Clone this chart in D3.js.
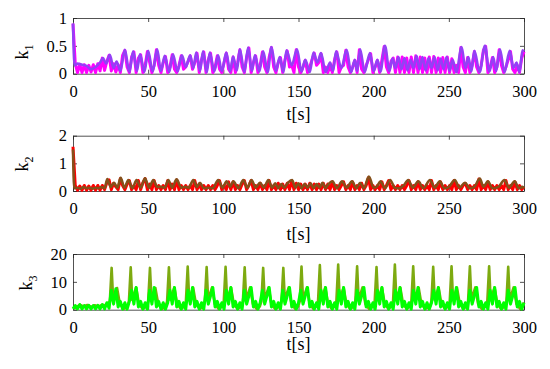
<!DOCTYPE html>
<html>
<head>
<meta charset="utf-8">
<script src="https://cdn.jsdelivr.net/npm/d3@7"></script>
<style>
  body { margin: 0; background: #fff; }
</style>
</head>
<body>
<div id="chart"></div>
<script>
// time axis
var xTicks = [0, 50, 100, 150, 200, 250, 300];
var rawStep = 1.5; // sample interval of the fast (bright) signals, seconds
var serif = "Liberation Serif";

// k1 -------------------------------------------------------------
var k1Ticks = [0, 0.5, 1];
var k1SmoothT = [0,1,3,6,9,12,15,18,20,22, 24.5,27,29,31.5,34.5,37.5,40,42.5,44.6,47.5,
  50,53,56,58.5,61,64,66.5,69.5,72.5,75, 78,80,82,84.5,86.5,89,91,94,96.5,99,
  102,104.5,106.5,109,111,114,116.5,119,121,124, 126.5,129.5,132,135,137.5,140,142,145.5,149,152,
  154.5,157.5,160,162.5,165,168,171,173,175,178.5, 182,185,187.5,189,191,194,197.5,200,202.5,204.5,
  207.5,210.5,212.5,214.5,216.5,218.5,220.5,222.5,224.5,226.5, 228.5,230.5,232.5,234.5,236.5,238.5,240.5,242.5,244.5,246.5,
  248.5,250.5,252.5,255,258.5,261,263,265,267,270.5, 274,277,279.5,281.5,284,287,290.5,293,295,297,
  299,300];
var k1SmoothV = [0.9,0.15,0.18,0.16,0.14,0.08,0.12,0.2,0.28,0.18, 0.34,0.1,0.22,0.05,0.43,0.03,0.4,0.05,0.35,0.03,
  0.41,0.04,0.44,0.05,0.32,0.03,0.35,0.04,0.33,0.12, 0.33,0.1,0.38,0.05,0.4,0.03,0.38,0.04,0.33,0.05,
  0.38,0.04,0.31,0.06,0.44,0.03,0.47,0.05,0.33,0.04, 0.4,0.03,0.48,0.05,0.3,0.03,0.42,0.15,0.44,0.04,
  0.25,0.03,0.38,0.2,0.37,0.03,0.2,0.05,0.4,0.1, 0.43,0.03,0.25,0.05,0.44,0.03,0.37,0.05,0.25,0.04,
  0.5,0.05,0.27,0.1,0.3,0.08,0.28,0.06,0.25,0.1, 0.32,0.08,0.3,0.06,0.28,0.1,0.3,0.06,0.27,0.08,
  0.3,0.05,0.25,0.03,0.48,0.1,0.3,0.04,0.41,0.03, 0.5,0.04,0.3,0.05,0.44,0.03,0.41,0.1,0.2,0.03,
  0.42,0.4];
var k1Raw = [0.9,0.18,0.02,0.17,0.02,0.16,0.02,0.15,0.03,0.16,
  0.02,0.18,0.05,0.28,0.06,0.22,0.33,0.05,0.18,0.03,
  0.16,0.02,0.33,0.42,0.12,0.02,0.3,0.39,0.02,0.28,
  0.34,0.02,0.15,0.4,0.2,0.02,0.15,0.43,0.15,0.02,
  0.2,0.31,0.02,0.12,0.34,0.08,0.02,0.15,0.32,0.08,
  0.12,0.22,0.32,0.08,0.2,0.37,0.02,0.25,0.39,0.02,
  0.25,0.37,0.02,0.12,0.32,0.08,0.02,0.2,0.37,0.08,
  0.02,0.3,0.02,0.2,0.43,0.12,0.02,0.3,0.46,0.02,
  0.2,0.32,0.02,0.15,0.39,0.12,0.02,0.3,0.47,0.12,
  0.02,0.2,0.29,0.02,0.25,0.41,0.12,0.15,0.02,0.43,
  0.12,0.02,0.12,0.24,0.02,0.12,0.25,0.37,0.15,0.2,
  0.36,0.02,0.12,0.02,0.15,0.02,0.25,0.39,0.02,0.12,
  0.15,0.42,0.12,0.02,0.12,0.24,0.02,0.43,0.08,0.02,
  0.15,0.25,0.36,0.02,0.12,0.24,0.02,0.25,0.49,0.12,
  0.02,0.22,0.28,0.02,0.3,0.02,0.3,0.02,0.28,0.02,
  0.3,0.02,0.32,0.02,0.3,0.02,0.28,0.02,0.3,0.02,
  0.31,0.02,0.28,0.02,0.29,0.02,0.3,0.02,0.27,0.02,
  0.15,0.02,0.47,0.12,0.02,0.29,0.02,0.15,0.4,0.12,
  0.02,0.15,0.42,0.49,0.02,0.12,0.29,0.02,0.12,0.43,
  0.15,0.02,0.12,0.25,0.4,0.08,0.02,0.15,0.02,0.28,
  0.4];

// k2 -------------------------------------------------------------
var k2Ticks = [0, 1, 2];
var k2SmoothT = [0,0.8,3,5,7,9,11,13,15,17, 19,21,22.8,25,27.3,29.5,31.7,34.2,36.8,39.5,
  42.3,45,47.9,50.6,53.4,56,58.5,61,63.4,66, 68.9,72,74.5,77,80,82.3,84.5,87,90,93,
  96.6,99.5,102.2,104.5,106.6,110,113.3,116,118.8,121.5, 124.4,127,129.9,132.5,134.5,136.5,138.5,140.5,143,145.7,
  148,150,152,154,156,158,160,162,164,166, 168,170,172.6,175.5,179,182,185.6,188.5,191,193.5,
  196.8,200,202,204.5,207.5,211,214,217,220,223, 226,229.7,233,237.5,240.5,244,247,250,254,257,
  260.7,264,267,270.6,273,276,279,283,287,290, 293.8,296.5,299,300];
var k2SmoothV = [1.5,0.1,0.12,0.08,0.14,0.1,0.12,0.08,0.12,0.1, 0.14,0.1,0.43,0.15,0.3,0.12,0.48,0.12,0.4,0.1,
  0.4,0.12,0.46,0.12,0.4,0.15,0.15,0.12,0.4,0.12, 0.42,0.12,0.15,0.12,0.4,0.15,0.3,0.1,0.12,0.1,
  0.4,0.12,0.35,0.15,0.35,0.1,0.4,0.12,0.4,0.12, 0.3,0.12,0.4,0.12,0.28,0.1,0.25,0.12,0.3,0.4,
  0.12,0.28,0.1,0.25,0.12,0.28,0.1,0.25,0.12,0.3, 0.1,0.25,0.35,0.1,0.35,0.12,0.35,0.1,0.3,0.1,
  0.52,0.12,0.15,0.35,0.1,0.4,0.12,0.1,0.2,0.4, 0.12,0.35,0.1,0.4,0.12,0.35,0.1,0.15,0.4,0.12,
  0.3,0.1,0.15,0.45,0.15,0.35,0.1,0.15,0.4,0.12, 0.35,0.1,0.15,0.1];
var k2Raw = [1.6,0.2,0.03,0.18,0.03,0.2,0.03,0.18,0.03,0.2,
  0.03,0.2,0.03,0.2,0.05,0.3,0.4,0.05,0.28,0.15,
  0.05,0.45,0.2,0.05,0.25,0.38,0.05,0.2,0.05,0.38,
  0.05,0.3,0.45,0.05,0.25,0.05,0.38,0.05,0.2,0.05,
  0.2,0.05,0.38,0.05,0.25,0.05,0.4,0.05,0.2,0.05,
  0.2,0.05,0.2,0.05,0.38,0.05,0.25,0.05,0.2,0.05,
  0.2,0.05,0.2,0.05,0.2,0.38,0.05,0.2,0.05,0.33,
  0.05,0.33,0.05,0.2,0.05,0.25,0.38,0.05,0.2,0.38,
  0.05,0.2,0.05,0.28,0.05,0.2,0.05,0.38,0.05,0.2,
  0.05,0.28,0.05,0.25,0.05,0.28,0.05,0.38,0.05,0.28,
  0.05,0.25,0.05,0.25,0.05,0.28,0.05,0.25,0.05,0.25,
  0.05,0.28,0.05,0.25,0.05,0.33,0.05,0.2,0.05,0.2,
  0.33,0.05,0.2,0.05,0.33,0.05,0.2,0.05,0.28,0.05,
  0.2,0.48,0.05,0.2,0.05,0.2,0.05,0.33,0.05,0.2,
  0.38,0.05,0.2,0.05,0.2,0.05,0.2,0.05,0.2,0.38,
  0.05,0.2,0.05,0.33,0.05,0.2,0.05,0.2,0.05,0.38,
  0.05,0.2,0.05,0.33,0.05,0.2,0.05,0.2,0.05,0.38,
  0.05,0.2,0.05,0.2,0.28,0.05,0.2,0.05,0.2,0.05,
  0.43,0.05,0.2,0.05,0.33,0.05,0.2,0.05,0.2,0.05,
  0.2,0.05,0.38,0.05,0.2,0.05,0.33,0.05,0.2,0.05,
  0.15];

// k3 -------------------------------------------------------------
var k3Ticks = [0, 10, 20];
var k3SmoothT = [0,2,4.5,7,9.5,12,14.5,17,19.5,22,24.5,
  25.7,26.7,29.3,31.2,33.7,36.2,37.2,
  38.4,39.4,42,43.9,46.4,49,50,
  51.2,52.2,54.8,56.7,59.2,61.6,62.6,
  63.8,64.8,67.4,69.3,71.8,74.1,75.1,
  76.3,77.3,79.9,81.8,84.3,86.7,87.7,
  88.9,89.9,92.5,94.4,96.9,99.3,100.3,
  101.5,102.5,105.1,107,109.5,112,113,
  114.2,115.2,117.8,119.7,122.2,124.3,125.3,
  126.5,127.5,130.1,132,134.5,137.7,138.7,
  139.9,140.9,143.5,145.4,147.9,149.8,150.8,
  152,153,155.6,157.5,160,162,163,
  164.2,165.2,167.8,169.7,172.2,174.2,175.2,
  176.4,177.4,180,181.9,184.4,186.8,187.8,
  189,190,192.6,194.5,197,199.7,200.7,
  201.9,202.9,205.5,207.4,209.9,211.9,212.9,
  214.1,215.1,217.7,219.6,222.1,224.1,225.1,
  226.3,227.3,229.9,231.8,234.3,237.4,238.4,
  239.6,240.6,243.2,245.1,247.6,249.6,250.6,
  251.8,252.8,255.4,257.3,259.8,261.8,262.8,
  264,265,267.6,269.5,272,274.6,275.6,
  276.8,277.8,280.4,282.3,284.8,287.3,288.3,
  289.5,290.5,293.1,295,297.5,299,300];
var k3SmoothV = [0.5,0.8,1.8,1.2,1.7,1,1.6,1.1,1.8,1.5,3,
  15,3.5,7.8,2,0.3,1.2,3,
  15.2,3.5,8,2,0.3,1.2,3,
  15,3.5,7.8,2,0.3,1.2,3,
  15.2,3.5,8,2,0.3,1.2,3,
  15.5,3.5,8,2,0.3,1.2,3,
  15.3,3.5,8,2,0.3,1.2,3,
  15.4,3.5,8,2,0.3,1.2,3,
  15.2,3.5,8,2,0.3,1.2,3,
  15,3.5,8,2,0.3,1.2,3,
  15,3.5,8,2,0.3,1.2,3,
  15.5,3.5,8,2,0.3,1.2,3,
  16,3.5,8,2,0.3,1.2,3,
  16.2,3.5,8,2,0.3,1.2,3,
  15.6,3.5,8,2,0.3,1.2,3,
  15.3,3.5,8,2,0.3,1.2,3,
  16.2,3.5,8,2,0.3,1.2,3,
  15.6,3.5,8,2,0.3,1.2,3,
  15.4,3.5,8,2,0.3,1.2,3,
  15.6,3.5,8,2,0.3,1.2,3,
  15.6,3.5,8,2,0.3,1.2,3,
  15.6,3.5,8,2,0.3,1.2,3,
  15.4,3.5,8,2,0.3,1.5,2.5];
var k3Raw = [0.3,1.5,0.3,1.8,0.3,1.5,0.3,1.6,0.3,1.5,
  0.3,1.6,0.3,1.8,0.3,2.5,0.5,7,2,7.5,
  1,3,0.2,2.5,0.2,3,7,2,8,1,
  3,0.2,2.5,0.2,7,2,8,1,3,0.2,
  2.5,0.2,2.5,7,2,8,1,3,0.2,2.5,
  0.2,7,2,8,1,3,0.2,2.5,0.2,7,
  2,5,8,1,3,0.2,2.5,0.2,7,2,
  8,1,3,0.2,2.5,0.2,7,2,5,8,
  1,3,0.2,2.5,7,2,5,8,1,3,
  0.2,2.5,0.2,7,2,5,8,1,3,0.2,
  2.5,7,2,5,8,1,3,0.2,2.5,0.2,
  7,2,8,1,3,0.2,2.5,0.2,7,2,
  8,1,3,0.2,2.5,0.2,7,2,5,8,
  1,3,0.2,2.5,0.2,7,2,8,1,3,
  0.2,2.5,0.2,7,2,8,1,3,0.2,2.5,
  0.2,7,2,8,1,3,0.2,2.5,0.2,2.5,
  7,2,8,1,3,0.2,2.5,0.2,7,2,
  8,1,3,0.2,2.5,0.2,7,2,5,8,
  1,3,0.2,2.5,0.2,7,2,8,1,3,
  0.2,2.5,0.2,7,2,5,8,1,3,0.2,
  2.5];

var svg, x;
initChart();

/**
 * Build the svg and draw the three panels
 */
function initChart()
{
  svg = d3.select("#chart")
  .append("svg")
  .attr("width", 550)
  .attr("height", 369)
  .style("background", "#fff");

  x = d3.scaleLinear()
  .domain([0, 300])
  .range([73, 524]);

  drawPanel({top: 18, bottom: 73.7, max: 1, ticks: k1Ticks, sub: "1",
    labelX: 28, labelY: 52, xLabelY: 120,
    smT: k1SmoothT, smV: k1SmoothV, raw: k1Raw,
    rawColor: "#ff00ff", smColor: "#9440f5", rawOnTop: false, smCurve: d3.curveMonotoneX});

  drawPanel({top: 135.7, bottom: 191, max: 2, ticks: k2Ticks, sub: "2",
    labelX: 28, labelY: 164, xLabelY: 240,
    smT: k2SmoothT, smV: k2SmoothV, raw: k2Raw,
    rawColor: "#ff0000", smColor: "#85501a", rawOnTop: false, smCurve: d3.curveMonotoneX});

  drawPanel({top: 254, bottom: 309.7, max: 20, ticks: k3Ticks, sub: "3",
    labelX: 32, labelY: 283, xLabelY: 350,
    smT: k3SmoothT, smV: k3SmoothV, raw: k3Raw,
    rawColor: "#00ff00", smColor: "#7daa10", rawOnTop: true, smCurve: d3.curveLinear});
}

/**
 * One subplot: box, inward ticks, two signals, labels
 */
function drawPanel(p)
{
  var y = d3.scaleLinear()
  .domain([0, p.max])
  .range([p.bottom, p.top]);

  var g = svg.append("g");

  // bottom axis with labels
  g.append("g")
  .attr("class", "axis")
  .attr("transform", "translate(0," + p.bottom + ")")
  .call(d3.axisBottom(x).tickValues(xTicks).tickSizeInner(-4).tickSizeOuter(0).tickPadding(11.5));

  // left axis
  g.append("g")
  .attr("class", "axis")
  .attr("transform", "translate(73,0)")
  .call(d3.axisLeft(y).tickValues(p.ticks).tickSizeInner(-4).tickSizeOuter(0).tickPadding(6)
    .tickFormat(d3.format("~g")));

  // top and right axes: ticks only, their empty labels removed
  g.append("g")
  .attr("class", "axis tickonly")
  .attr("transform", "translate(0," + p.top + ")")
  .call(d3.axisTop(x).tickValues(xTicks).tickSizeInner(-4).tickSizeOuter(0));

  g.append("g")
  .attr("class", "axis tickonly")
  .attr("transform", "translate(524,0)")
  .call(d3.axisRight(y).tickValues(p.ticks).tickSizeInner(-4).tickSizeOuter(0));

  g.selectAll(".tickonly text").remove();
  g.selectAll(".axis").attr("font-family", null).attr("font-size", null);
  g.selectAll(".axis path, .axis line").attr("stroke", "#262626").attr("stroke-width", 0.8);
  g.selectAll(".axis text")
  .style("font-family", serif)
  .style("font-size", "16.5px")
  .attr("fill", "#000");

  var smooth = d3.zip(p.smT, p.smV);
  var raw = p.raw.map(function(v, i) { return [i * rawStep, v]; });

  var smLine = d3.line()
  .x(function(d) { return x(d[0]); })
  .y(function(d) { return y(d[1]); })
  .curve(p.smCurve);

  var rawLine = d3.line()
  .x(function(d) { return x(d[0]); })
  .y(function(d) { return y(d[1]); });

  function addRaw() {
    g.append("path")
    .datum(raw)
    .attr("d", rawLine)
    .attr("fill", "none")
    .attr("stroke", p.rawColor)
    .attr("stroke-width", 3)
    .attr("stroke-linejoin", "round");
  }
  function addSmooth() {
    g.append("path")
    .datum(smooth)
    .attr("d", smLine)
    .attr("fill", "none")
    .attr("stroke", p.smColor)
    .attr("stroke-width", 2.6)
    .attr("stroke-linejoin", "round");
  }

  if (p.rawOnTop) { addSmooth(); addRaw(); }
  else { addRaw(); addSmooth(); }

  // y label k_n, rotated
  var lab = g.append("text")
  .attr("transform", "translate(" + p.labelX + "," + p.labelY + ") rotate(-90)")
  .attr("text-anchor", "middle")
  .style("font-family", serif)
  .style("font-size", "18px")
  .attr("fill", "#000")
  .text("k");
  lab.append("tspan")
  .attr("dy", 5)
  .style("font-size", "12px")
  .text(p.sub);

  // x label
  g.append("text")
  .attr("x", x(150))
  .attr("y", p.xLabelY)
  .attr("text-anchor", "middle")
  .style("font-family", serif)
  .style("font-size", "18px")
  .attr("fill", "#000")
  .text("t[s]");
}
</script>
</body>
</html>
